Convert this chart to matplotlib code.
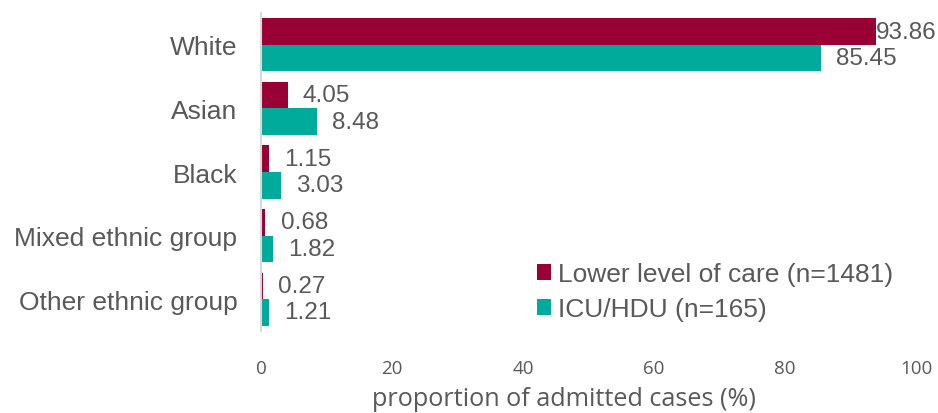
import matplotlib
matplotlib.use("Agg")
import matplotlib.pyplot as plt
from matplotlib.patches import Patch

categories = ["White", "Asian", "Black", "Mixed ethnic group", "Other ethnic group"]
lower_care = [93.86, 4.05, 1.15, 0.68, 0.27]
icu_hdu = [85.45, 8.48, 3.03, 1.82, 1.21]
series_names = ["Lower level of care (n=1481)", "ICU/HDU (n=165)"]
x_ticks = [0, 20, 40, 60, 80, 100]

RED = "#990033"
TEAL = "#00AB9B"
TEXT = "#595959"

plt.rcParams["font.family"] = ["Liberation Sans", "DejaVu Sans"]
axis_font = ["Open Sans", "DejaVu Sans"]

fig = plt.figure(figsize=(9.38, 4.14), dpi=100)
ax = fig.add_axes([0.2783, 0.198, 0.9765 - 0.2783, 0.9662 - 0.198])

h = 0.417
ys = list(range(len(categories)))
b1 = ax.barh([y - h / 2 for y in ys], lower_care, height=h, color=RED, label=series_names[0])
b2 = ax.barh([y + h / 2 for y in ys], icu_hdu, height=h, color=TEAL, label=series_names[1])

ax.set_xlim(0, 100)
ax.set_ylim(len(categories) - 0.5, -0.5)
ax.set_yticks(ys)
ax.set_yticklabels(categories, fontsize=19, color=TEXT)
ax.set_xticks(x_ticks)
ax.set_xticklabels([str(t) for t in x_ticks], fontsize=13.5, color=TEXT, family=axis_font)
ax.tick_params(axis="both", length=0)
ax.tick_params(axis="x", pad=20)
ax.tick_params(axis="y", pad=17)
ax.set_xlabel("proportion of admitted cases (%)", fontsize=18.2, color=TEXT,
              family=axis_font)
ax.xaxis.set_label_coords(0.4626, -0.213)
ax.xaxis.label.set_va("center")

for s in ["top", "right", "bottom"]:
    ax.spines[s].set_visible(False)
ax.spines["left"].set_color("#D9D9D9")
ax.spines["left"].set_linewidth(1.5)

labels = []
for bars, vals in ((b1, lower_care), (b2, icu_hdu)):
    for bar, v in zip(bars, vals):
        t = ax.annotate(f"{v:.2f}", xy=(v, bar.get_y() + bar.get_height() / 2),
                        xytext=(11, 0), textcoords="offset points",
                        ha="left", va="center", fontsize=17.5, color=TEXT,
                        annotation_clip=False)
        labels.append(t)

# keep value labels inside the figure
fig.canvas.draw()
renderer = fig.canvas.get_renderer()
W = fig.bbox.width
for t in labels:
    bb = t.get_window_extent(renderer)
    if bb.x1 > W - 2:
        shift_pts = (bb.x1 - (W - 2)) * 72 / fig.dpi
        x0, y0 = t.xyann
        t.xyann = (x0 - shift_pts, y0)

handles = [Patch(facecolor=RED), Patch(facecolor=TEAL)]
ax.legend(handles, series_names, loc="lower left", bbox_to_anchor=(0.572, 0.222),
          bbox_transform=fig.transFigure, frameon=False, fontsize=19,
          handlelength=0.55, handleheight=0.55, handletextpad=0.25,
          labelspacing=0.42, labelcolor=TEXT, borderpad=0, borderaxespad=0)

fig.savefig("out.png", dpi=100)
